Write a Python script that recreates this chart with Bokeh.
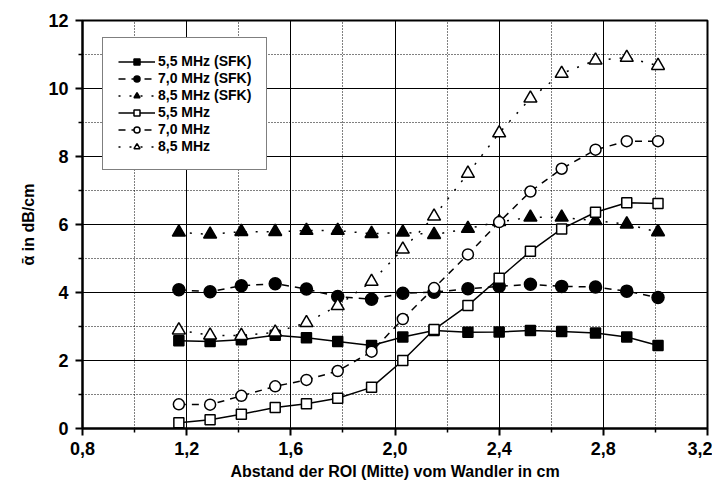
from bokeh.plotting import figure
from bokeh.models import FixedTicker, Legend, LegendItem, Range1d
from bokeh.embed import file_html
from bokeh.resources import INLINE

# ---- data ----
x_cm = [1.17, 1.29, 1.41, 1.54, 1.66, 1.78, 1.91, 2.03, 2.15, 2.28, 2.40, 2.52, 2.64, 2.77, 2.89, 3.01]

sfk_55 = [2.58, 2.56, 2.61, 2.74, 2.67, 2.56, 2.44, 2.69, 2.88, 2.83, 2.84, 2.88, 2.85, 2.81, 2.69, 2.44]
sfk_70 = [4.08, 4.02, 4.20, 4.26, 4.10, 3.88, 3.80, 3.98, 4.01, 4.11, 4.18, 4.24, 4.18, 4.16, 4.04, 3.85]
sfk_85 = [5.77, 5.71, 5.79, 5.79, 5.82, 5.82, 5.73, 5.77, 5.70, 5.88, 6.08, 6.21, 6.21, 6.11, 6.01, 5.78]
ref_55 = [0.17, 0.26, 0.42, 0.62, 0.73, 0.89, 1.21, 2.00, 2.91, 3.62, 4.42, 5.21, 5.87, 6.36, 6.64, 6.62]
ref_70 = [0.71, 0.70, 0.96, 1.24, 1.43, 1.69, 2.26, 3.22, 4.13, 5.12, 6.07, 6.97, 7.64, 8.20, 8.45, 8.45]
ref_85 = [2.89, 2.74, 2.73, 2.83, 3.11, 3.61, 4.32, 5.27, 6.24, 7.50, 8.69, 9.71, 10.44, 10.83, 10.91, 10.67]

labels = ["5,5 MHz (SFK)", "7,0 MHz (SFK)", "8,5 MHz (SFK)", "5,5 MHz", "7,0 MHz", "8,5 MHz"]

x_ticks = [0.8, 1.2, 1.6, 2.0, 2.4, 2.8, 3.2]
x_tick_labels = ["0,8", "1,2", "1,6", "2,0", "2,4", "2,8", "3,2"]
x_minor = [1.0, 1.4, 1.8, 2.2, 2.6, 3.0]
y_ticks = [0, 2, 4, 6, 8, 10, 12]
y_minor = [1, 3, 5, 7, 9, 11]

FONT = "Liberation Sans"

p = figure(width=712, height=490, output_backend="svg", toolbar_location=None,
           x_range=Range1d(0.8, 3.2), y_range=Range1d(0, 12),
           min_border_left=82, min_border_right=5, min_border_top=20, min_border_bottom=62)

p.background_fill_color = "white"
p.border_fill_color = "white"
p.outline_line_color = "black"
p.outline_line_width = 2

p.xaxis.ticker = FixedTicker(ticks=x_ticks, minor_ticks=x_minor)
p.yaxis.ticker = FixedTicker(ticks=y_ticks, minor_ticks=y_minor)
p.xaxis.major_label_overrides = {t: l for t, l in zip(x_ticks, x_tick_labels)}

for ax in (p.xaxis[0], p.yaxis[0]):
    ax.axis_line_width = 2
    ax.axis_line_color = "black"
    ax.major_tick_line_width = 2
    ax.major_tick_line_color = "black"
    ax.minor_tick_line_width = 1.5
    ax.minor_tick_line_color = "black"
    ax.major_tick_in = 0
    ax.major_tick_out = 7
    ax.minor_tick_in = 0
    ax.minor_tick_out = 4
    ax.major_label_text_font = FONT
    ax.major_label_text_font_style = "bold"
    ax.major_label_text_font_size = "18px"
    ax.major_label_text_color = "black"
    ax.axis_label_text_font = FONT
    ax.axis_label_text_font_style = "bold"
    ax.axis_label_text_font_size = "16px"
    ax.axis_label_text_color = "black"

p.xaxis.axis_label = "Abstand der ROI (Mitte) vom Wandler in cm"
p.yaxis.axis_label = "\u03b1\u0304 in dB/cm"
p.xaxis.major_label_standoff = 6
p.xaxis.axis_label_standoff = 5
p.yaxis.major_label_standoff = 7
p.yaxis.axis_label_standoff = 8

for g in (p.xgrid[0], p.ygrid[0]):
    g.grid_line_color = "black"
    g.grid_line_width = 1
    g.minor_grid_line_color = "black"
    g.minor_grid_line_width = 1
    g.minor_grid_line_dash = "1 2"

series = [
    (sfk_55, "solid", "square", 10, "black"),
    (sfk_70, "7 6", "circle", 12, "black"),
    (sfk_85, "2 9", "triangle", 13, "black"),
    (ref_55, "solid", "square", 10, "white"),
    (ref_70, "7 6", "circle", 11, "white"),
    (ref_85, "2 9", "triangle", 13, "white"),
]

items = []
for (ys, dash, marker, size, fill), lab in zip(series, labels):
    ln = p.line(x_cm, ys, line_color="black", line_width=1.5, line_dash=dash)
    sc = p.scatter(x_cm, ys, marker=marker, size=size, fill_color=fill,
                   line_color="black", line_width=1.5)
    items.append(LegendItem(label=lab, renderers=[ln, sc]))

legend = Legend(items=items, location=(20, 258))
legend.label_text_font = FONT
legend.label_text_font_style = "bold"
legend.label_text_font_size = "14px"
legend.label_text_color = "black"
legend.label_height = 15
legend.glyph_height = 15
legend.glyph_width = 37
legend.label_standoff = 3
legend.spacing = 1
legend.padding = 15
legend.margin = 0
legend.border_line_color = "black"
legend.border_line_width = 1.5
legend.background_fill_color = "white"
legend.background_fill_alpha = 1
p.add_layout(legend, "center")

open("out.html", "w").write(file_html(p, INLINE))
